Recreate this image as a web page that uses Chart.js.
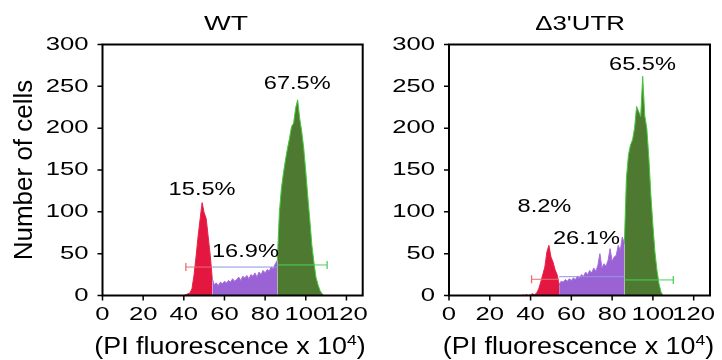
<!DOCTYPE html>
<html>
<head>
<meta charset="utf-8">
<script src="https://cdn.jsdelivr.net/npm/chart.js@4.4.1/dist/chart.umd.min.js"></script>
<style>
  html, body { margin: 0; padding: 0; background: #fff; overflow: hidden; }
  canvas { position: absolute; top: 0; }
  #wt { left: 0; }
  #utr { left: 370px; }
</style>
</head>
<body>
<canvas id="wt" width="370" height="360"></canvas>
<canvas id="utr" width="352" height="360"></canvas>
<script>
// PI fluorescence channels (x 10^4)
const channels = [36, 37, 38, 39, 40, 41, 42, 43, 44, 45, 46, 47, 48, 49, 50, 51, 52, 53, 54, 55,
  56, 57, 58, 59, 60, 61, 62, 63, 64, 65, 66, 67, 68, 69, 70, 71, 72, 73, 74, 75,
  76, 77, 78, 79, 80, 81, 82, 83, 84, 85, 86, 87, 88, 89, 90, 91, 92, 93, 94, 95,
  96, 97, 98, 99, 100, 101, 102, 103, 104, 105, 106, 107, 108, 109, 110, 111, 112];

// number of cells per channel
const wtCounts = [0, 0, 0, 0, 0, 1, 2, 3, 8, 24, 46, 70, 91, 111, 99, 92, 70, 48, 20, 13,
  15, 12, 16, 14, 17, 15, 18, 16, 20, 17, 19, 22, 18, 23, 21, 24, 20, 25, 23, 27,
  22, 28, 25, 30, 27, 31, 29, 34, 32, 38, 42, 99, 128, 146, 162, 176, 188, 202, 206, 224,
  234, 212, 196, 176, 148, 118, 90, 60, 40, 22, 13, 6, 2, 0, 0, 0, 0];
const utrCounts = [1, 0, 1, 0, 1, 2, 1, 3, 8, 16, 25, 34, 52, 60, 46, 40, 31, 25, 13, 17,
  16, 19, 17, 20, 18, 21, 19, 23, 21, 25, 23, 28, 25, 30, 27, 33, 29, 36, 50, 33,
  38, 35, 42, 56, 41, 46, 48, 60, 54, 70, 62, 140, 168, 180, 186, 200, 226, 220, 214, 262,
  215, 200, 165, 120, 84, 52, 30, 14, 4, 0, 0, 0, 0, 0, 0, 0, 0];

// gate limits G1 | S | G2/M
const wtGates = [54, 86];
const utrGates = [54, 86];

// gate marker bars: start, end, height
const wtBarStart = [41, 54, 86];
const wtBarEnd = [54, 86, 110.5];
const wtBarLevel = [34, 34, 36.5];
const utrBarStart = [40.5, 54, 86];
const utrBarEnd = [54, 86, 110];
const utrBarLevel = [19.4, 22.5, 18.6];

// phase percentages G1, S, G2/M
const wtPercents = ['15.5%', '16.9%', '67.5%'];
const utrPercents = ['8.2%', '26.1%', '65.5%'];

const xTicks = [0, 20, 40, 60, 80, 100, 120];
const yTicks = [0, 50, 100, 150, 200, 250, 300];

const FONT = '"Liberation Sans", Arial, sans-serif';
Chart.defaults.font.family = FONT;
Chart.defaults.color = '#000';

const fills = ['#e3173f', '#9a62d4', '#4d7a30'];
const edges = ['#e8244a', '#a66ee0', '#45c83c'];
const barColors = ['#e87070', '#8f94e6', '#4fcf5a'];

function segment(counts, lo, hi) {
  const pts = [];
  channels.forEach((c, i) => {
    if (c >= lo && c <= hi) pts.push({ x: c, y: counts[i] });
  });
  // drop flat zero tails so the outline does not run along the axis
  while (pts.length > 1 && pts[0].y === 0 && pts[1].y === 0) pts.shift();
  while (pts.length > 1 && pts[pts.length - 1].y === 0 && pts[pts.length - 2].y === 0) pts.pop();
  return pts;
}

// the figure's lettering is wide, so each text gets a sideways stretch hs
function wide(ctx, text, x, y, size, hs) {
  ctx.save();
  ctx.translate(x, y);
  ctx.scale(hs, 1);
  ctx.font = size + 'px ' + FONT;
  ctx.fillText(text, 0, 0);
  ctx.restore();
}

function panelDecor(cfg) {
  return {
    id: 'panelDecor',
    afterDraw(chart) {
      const { ctx, chartArea: a, scales } = chart;
      ctx.save();
      // box and tick marks
      ctx.strokeStyle = '#000';
      ctx.lineWidth = 2;
      ctx.strokeRect(a.left, a.top, a.right - a.left, a.bottom - a.top);
      ctx.lineWidth = 1.5;
      ctx.beginPath();
      xTicks.forEach(v => {
        const px = scales.x.getPixelForValue(v);
        ctx.moveTo(px, a.bottom);
        ctx.lineTo(px, a.bottom + 5);
      });
      yTicks.forEach(v => {
        const py = scales.y.getPixelForValue(v);
        ctx.moveTo(a.left, py);
        ctx.lineTo(a.left - 5, py);
      });
      ctx.stroke();

      ctx.fillStyle = '#000';
      // tick labels
      ctx.textBaseline = 'middle';
      ctx.textAlign = 'right';
      yTicks.forEach(v => wide(ctx, String(v), a.left - 14, scales.y.getPixelForValue(v), 19, 1.35));
      ctx.textBaseline = 'alphabetic';
      ctx.textAlign = 'center';
      xTicks.forEach(v => wide(ctx, String(v), scales.x.getPixelForValue(v), 320, 19, 1.35));

      wide(ctx, cfg.title, cfg.titleX, 30, 21, cfg.titleStretch);
      cfg.percents.forEach((t, i) => {
        const p = cfg.anchors[i];
        wide(ctx, t, scales.x.getPixelForValue(p[0]), scales.y.getPixelForValue(p[1]), 17.5, 1.35);
      });

      // x axis title with superscript exponent
      const main = '(PI fluorescence x 10';
      ctx.save();
      ctx.translate(cfg.xTitleX, 354);
      ctx.scale(1.17, 1);
      ctx.textAlign = 'left';
      ctx.font = '23px ' + FONT;
      const w1 = ctx.measureText(main).width;
      const w3 = ctx.measureText(')').width;
      ctx.font = '15px ' + FONT;
      const w2 = ctx.measureText('4').width;
      const sx = -(w1 + w2 + w3) / 2;
      ctx.font = '23px ' + FONT;
      ctx.fillText(main, sx, 0);
      ctx.fillText(')', sx + w1 + w2, 0);
      ctx.font = '15px ' + FONT;
      ctx.fillText('4', sx + w1, -9);
      ctx.restore();

      if (cfg.yTitle) {
        ctx.save();
        ctx.translate(32, 170);
        ctx.rotate(-Math.PI / 2);
        ctx.textAlign = 'center';
        ctx.font = '26px ' + FONT;
        ctx.fillText(cfg.yTitle, 0, 0);
        ctx.restore();
      }
      ctx.restore();
    }
  };
}

function drawPanel(id, counts, gates, barStart, barEnd, barLevel, text, area) {
  const ranges = [[-Infinity, gates[0]], [gates[0], gates[1]], [gates[1], Infinity]];
  const hist = ranges.map((r, i) => ({
    data: segment(counts, r[0], r[1]),
    backgroundColor: fills[i],
    borderColor: edges[i],
    borderWidth: 1,
    pointRadius: 0,
    fill: 'origin',
    tension: 0,
    order: 2
  }));
  const bars = barStart.map((s, i) => ({
    data: [{ x: s, y: barLevel[i] }, { x: barEnd[i], y: barLevel[i] }],
    borderColor: barColors[i],
    borderWidth: 1,
    fill: false,
    pointStyle: 'line',
    pointRotation: 90,
    pointRadius: i === 0 ? [4, 0] : i === 2 ? [0, 4] : 0,
    pointBorderColor: barColors[i],
    pointBorderWidth: 1.3,
    order: 1
  }));

  return new Chart(document.getElementById(id), {
    type: 'line',
    data: { datasets: hist.concat(bars) },
    options: {
      responsive: false,
      animation: false,
      layout: { padding: { left: 0, top: 44.5, right: area.right, bottom: 0 } },
      plugins: { legend: { display: false }, tooltip: { enabled: false } },
      scales: {
        x: {
          type: 'linear',
          min: xTicks[0],
          max: 128,
          afterFit: s => { s.height = 64.5; },
          ticks: { display: false, stepSize: xTicks[1] - xTicks[0] },
          grid: { display: false },
          border: { display: false }
        },
        y: {
          min: yTicks[0],
          max: yTicks[yTicks.length - 1],
          afterFit: s => { s.width = area.left; },
          ticks: { display: false, stepSize: yTicks[1] - yTicks[0] },
          grid: { display: false },
          border: { display: false }
        }
      }
    },
    plugins: [panelDecor(text)]
  });
}

drawPanel('wt', wtCounts, wtGates, wtBarStart, wtBarEnd, wtBarLevel, {
  title: 'WT', titleX: 226, titleStretch: 1.35, xTitleX: 230, yTitle: 'Number of cells',
  percents: wtPercents,
  anchors: [[49, 120], [70.3, 46], [95.8, 247]]
}, { left: 102.5, right: 7.3 });

drawPanel('utr', utrCounts, utrGates, utrBarStart, utrBarEnd, utrBarLevel, {
  title: '\u03943\'UTR', titleX: 210, titleStretch: 1.23, xTitleX: 208.5,
  percents: utrPercents,
  anchors: [[46.8, 100], [67.4, 61.7], [94.9, 269]]
}, { left: 79, right: 12 });
</script>
</body>
</html>
